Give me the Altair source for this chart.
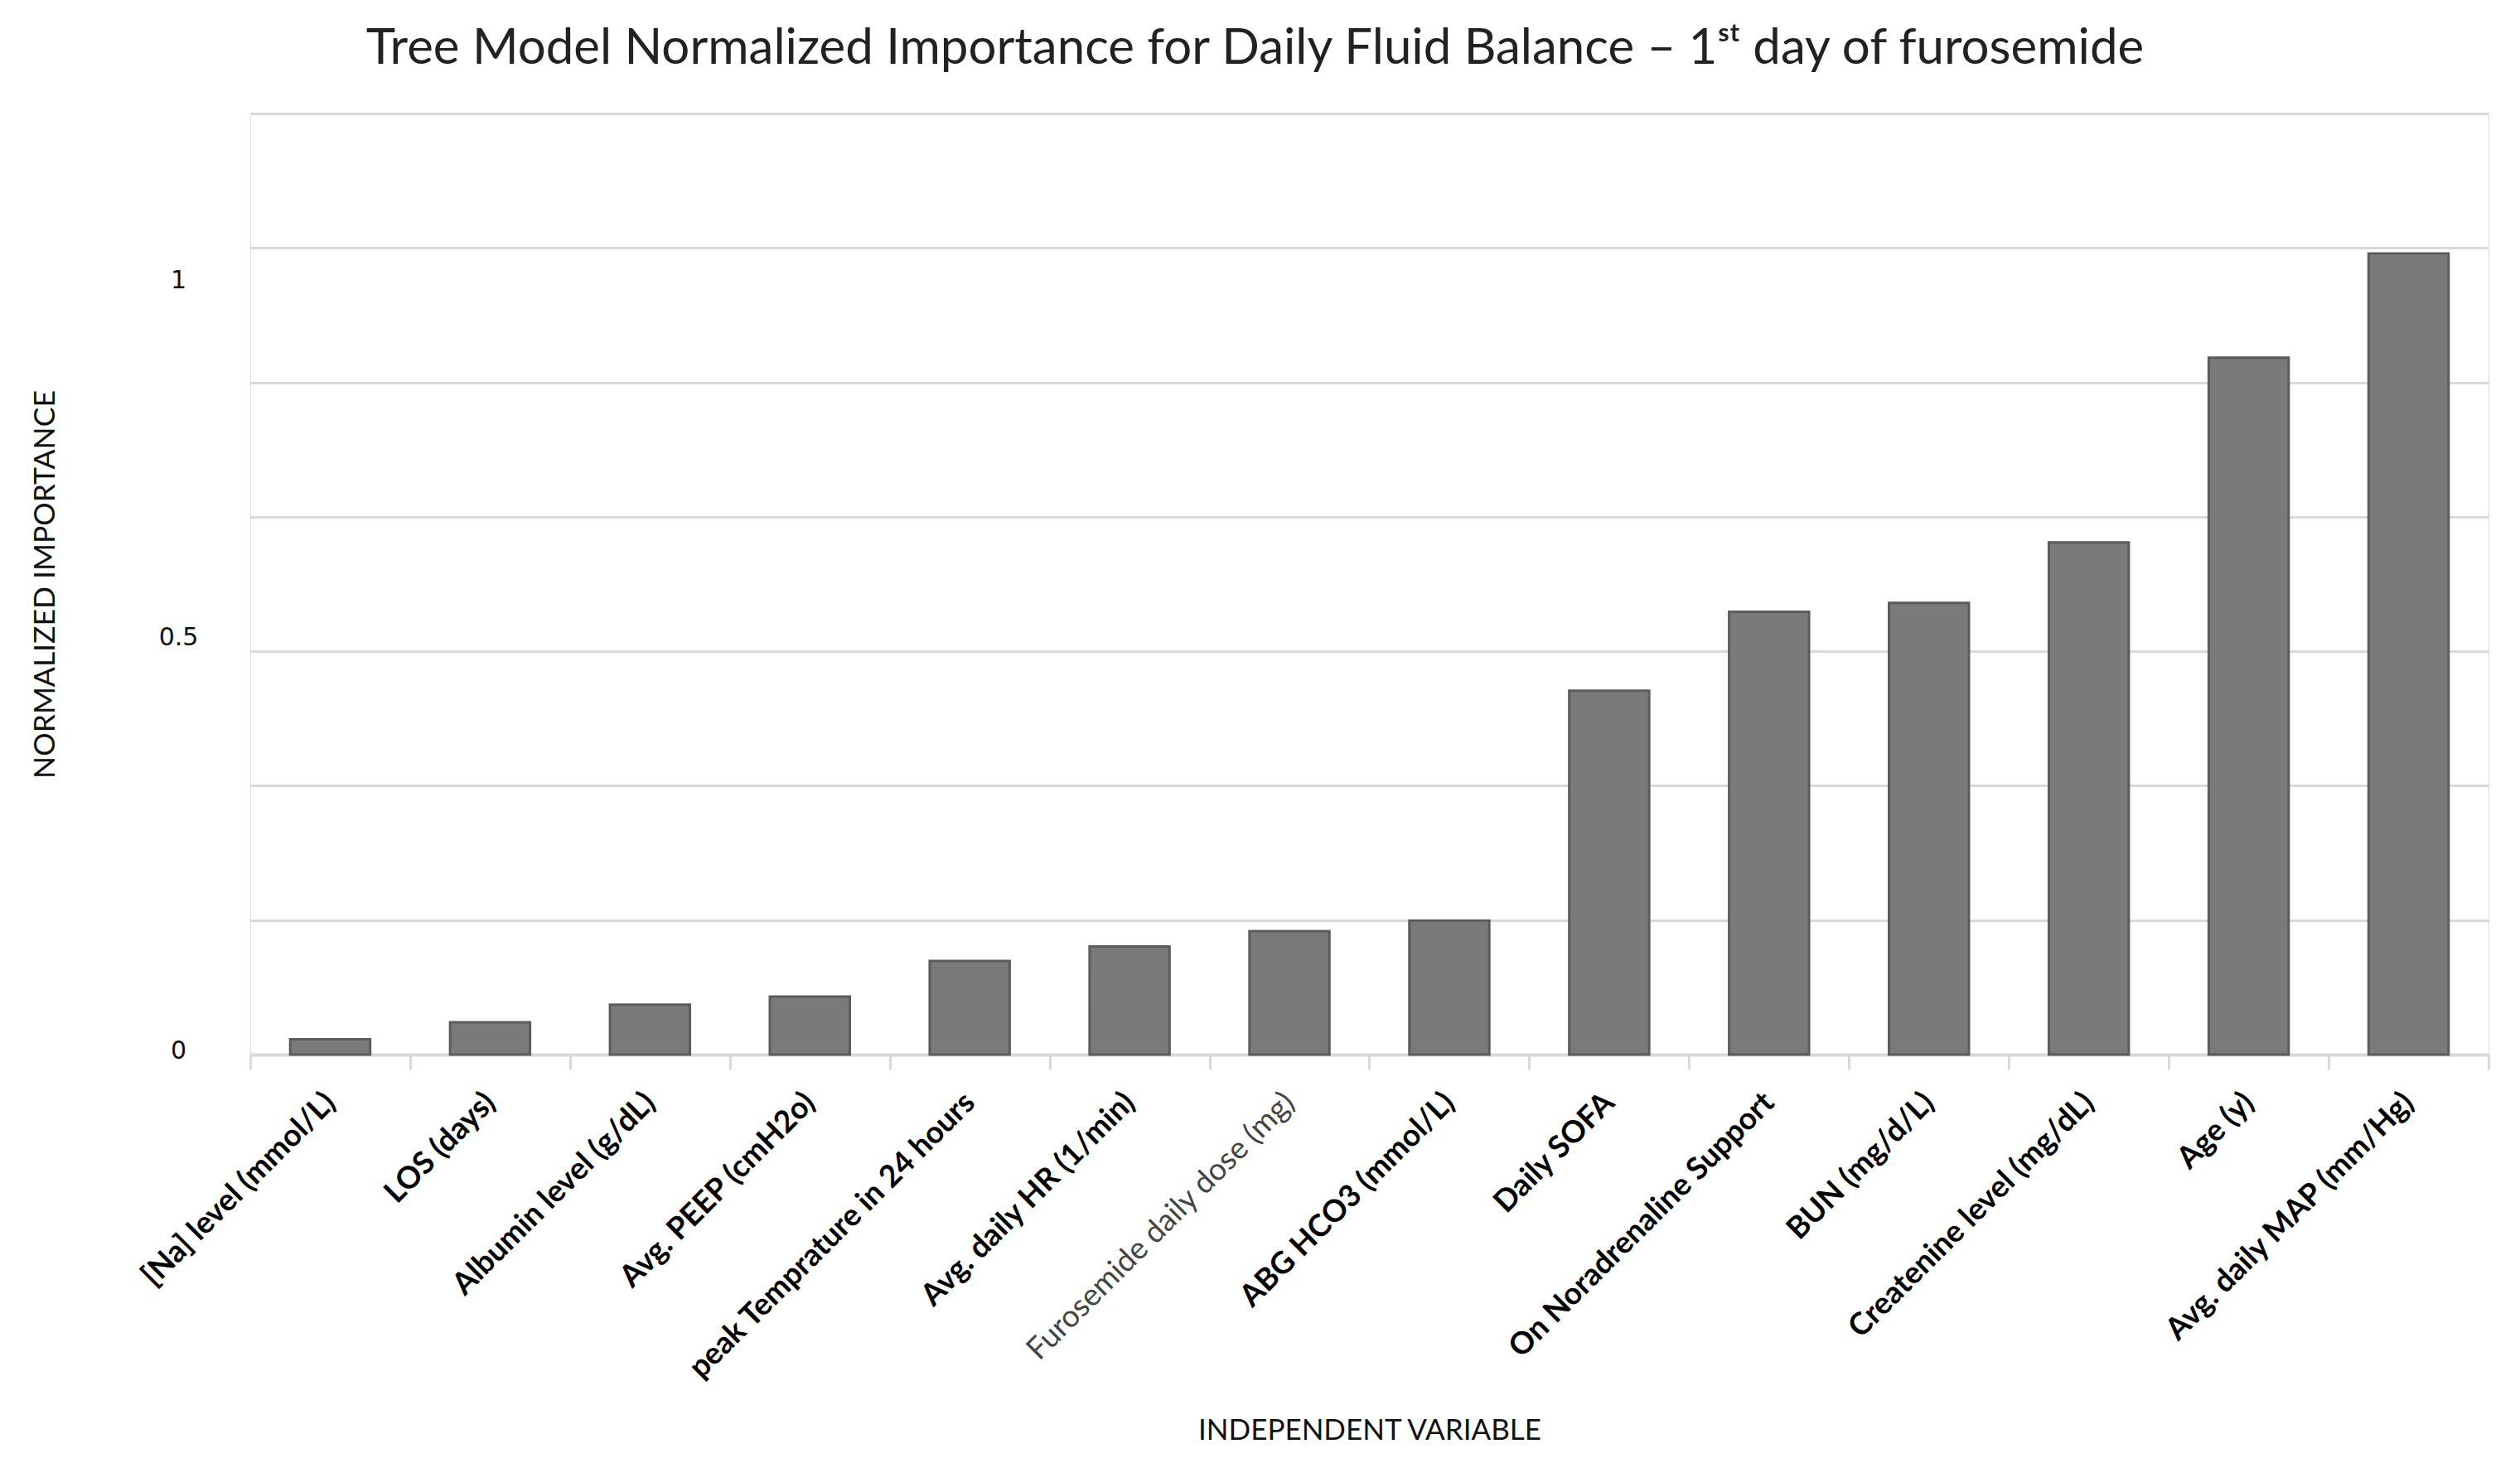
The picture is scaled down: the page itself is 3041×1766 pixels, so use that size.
import altair as alt
import pandas as pd

variables = [
    "[Na] level (mmol/L)", "LOS (days)", "Albumin level (g/dL)", "Avg. PEEP (cmH2o)",
    "peak Temprature in 24 hours", "Avg. daily HR (1/min)", "Furosemide daily dose (mg)",
    "ABG HCO3 (mmol/L)", "Daily SOFA", "On Noradrenaline Support", "BUN (mg/d/L)",
    "Createnine level (mg/dL)", "Age (y)", "Avg. daily MAP (mm/Hg)",
]
importance = [0.019, 0.040, 0.062, 0.072, 0.116, 0.134, 0.153,
              0.166, 0.451, 0.549, 0.560, 0.635, 0.864, 0.993]
grid_values = [0, 1/6, 2/6, 3/6, 4/6, 5/6, 1, 7/6]

df = pd.DataFrame({"variable": variables, "importance": importance})

W, H = 2701, 1136
PL, PT = 294, 129

bars = alt.Chart(df).mark_bar(
    width=alt.RelativeBandSize(0.5), color="#7a7a7a", stroke="#5c5c5c", strokeWidth=3
).encode(
    x=alt.X("variable:N", sort=variables,
            scale=alt.Scale(paddingInner=0, paddingOuter=0),
            axis=alt.Axis(
                title="INDEPENDENT VARIABLE", labelAngle=-45, labelAlign="right",
                labelBaseline="middle", labelPadding=34, labelFont="Lato",
                labelFontSize=37,
                labelFontWeight=alt.expr("datum.value == 'Furosemide daily dose (mg)' ? 'normal' : 'bold'"),
                labelColor=alt.expr("datum.value == 'Furosemide daily dose (mg)' ? '#444444' : '#000000'"),
                tickBand="extent", ticks=True, tickSize=18, tickColor="#d9d9d9", tickWidth=3,
                domainColor="#d9d9d9", domainWidth=4, grid=False, labelLimit=0,
                titleFont="Lato", titleFontSize=35, titleFontWeight="normal", titleColor="#111111",
                titleY=453, titleBaseline="middle",
            )),
    y=alt.Y("importance:Q",
            scale=alt.Scale(domain=[0, 7/6], nice=False, zero=True),
            axis=alt.Axis(
                title="NORMALIZED IMPORTANCE", values=grid_values,
                labelExpr="abs(datum.value - 0.5) < 0.001 ? '0.5' : abs(datum.value - 1) < 0.001 ? '1' : datum.value == 0 ? '0' : ''",
                labelOffset=alt.expr("abs(datum.value - 1) < 0.001 ? 39 : abs(datum.value - 0.5) < 0.001 ? -17 : -5"),
                ticks=False, tickSize=0, domain=False, labelPadding=87, labelAlign="center",
                labelFont="DejaVu Sans", labelFontSize=30, labelColor="#111111",
                gridColor="#d9d9d9", gridWidth=3,
                titleFont="Lato", titleFontSize=35.5, titleFontWeight="normal", titleColor="#111111",
                titleX=-248, titleBaseline="middle",
            )),
)

chart = bars.properties(
    width=W, height=H,
    autosize=alt.AutoSizeParams(type="none"),
    padding={"left": PL, "top": PT, "right": 30, "bottom": 470},
    title=alt.TitleParams(
        "Tree Model Normalized Importance for Daily Fluid Balance – 1ˢᵗ day of furosemide",
        font="Lato", fontSize=60, fontWeight="normal", color="#222222",
        anchor="middle", frame="group", dx=-138, offset=0, baseline="alphabetic",
    ),
).configure_view(stroke=None).configure(background="white")

chart.save("out.html", embed_options={"renderer": "svg", "actions": False})
